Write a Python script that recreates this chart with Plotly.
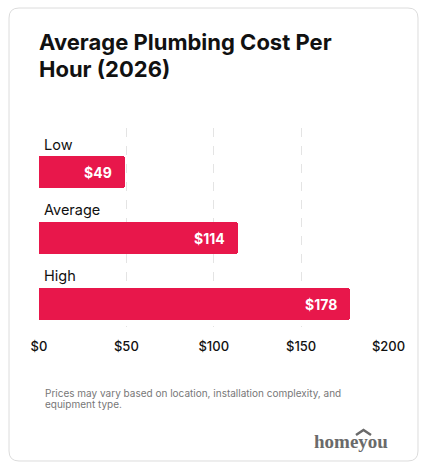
import plotly.graph_objects as go

categories = ["Low", "Average", "High"]
values = [49, 114, 178]
value_labels = ["$49", "$114", "$178"]
tick_vals = [0, 50, 100, 150, 200]
tick_text = ["$0", "$50", "$100", "$150", "$200"]
title_lines = ["Average Plumbing Cost Per", "Hour (2026)"]
note_lines = ["Prices may vary based on location, installation complexity, and", "equipment type."]

W, H = 426, 469
BAR_COLOR = "#E8174B"
FONT = "Inter"

def px(x):
    return x / W

def py(y):
    return 1 - y / H

fig = go.Figure()
fig.add_trace(go.Bar(
    x=values, y=list(range(len(categories))), orientation="h",
    marker=dict(color=BAR_COLOR, cornerradius=3, line=dict(width=0)),
    width=0.485, hoverinfo="skip",
))

annotations = []
for i, (c, v, t) in enumerate(zip(categories, values, value_labels)):
    annotations.append(dict(x=0, y=i, xref="x", yref="y", text=c, showarrow=False,
                            xanchor="left", yanchor="middle", xshift=3, yshift=28,
                            font=dict(family=FONT, size=14.5, color="#111")))
    annotations.append(dict(x=v, y=i, xref="x", yref="y", text="<b>%s</b>" % t, showarrow=False,
                            xanchor="right", yanchor="middle", xshift=-11,
                            font=dict(family=FONT, size=14, color="white")))

for k, (line, yc) in enumerate(zip(title_lines, [42, 69])):
    annotations.append(dict(x=px(37), y=py(yc), xref="paper", yref="paper",
                            text="<b>%s</b>" % line, showarrow=False,
                            xanchor="left", yanchor="middle", align="left",
                            font=dict(family=FONT, size=22, color="#111")))
for line, yc in zip(note_lines, [393, 404]):
    annotations.append(dict(x=px(43), y=py(yc), xref="paper", yref="paper",
                            text=line, showarrow=False, xanchor="left", yanchor="middle",
                            font=dict(family=FONT, size=10, color="#777")))
annotations.append(dict(x=px(390), y=py(441), xref="paper", yref="paper",
                        text="<b>homeyou</b>", showarrow=False, xanchor="right", yanchor="middle",
                        font=dict(family="Liberation Serif", size=19, color="#6a6a6a")))

# rounded card
x0, x1, y0, y1, r = 9, 418, 8, 461, 10
def P(x, y):
    return "%.5f,%.5f" % (px(x), py(y))
card = ("M " + P(x0 + r, y0) + " L " + P(x1 - r, y0) + " Q " + P(x1, y0) + " " + P(x1, y0 + r) +
        " L " + P(x1, y1 - r) + " Q " + P(x1, y1) + " " + P(x1 - r, y1) +
        " L " + P(x0 + r, y1) + " Q " + P(x0, y1) + " " + P(x0, y1 - r) +
        " L " + P(x0, y0 + r) + " Q " + P(x0, y0) + " " + P(x0 + r, y0) + " Z")
hat = "M " + P(356, 435) + " L " + P(363.5, 430) + " L " + P(371, 435)

fig.update_layout(
    width=W, height=H, margin=dict(l=0, r=0, t=0, b=0, autoexpand=False),
    paper_bgcolor="white", plot_bgcolor="rgba(0,0,0,0)",
    showlegend=False, bargap=0,
    annotations=annotations,
    shapes=[
        dict(type="path", path=card, xref="paper", yref="paper",
             line=dict(color="#dcdcdc", width=1), fillcolor="white", layer="below"),
        dict(type="path", path=hat, xref="paper", yref="paper",
             line=dict(color="#6a6a6a", width=2.5)),
    ],
    xaxis=dict(domain=[px(39), px(388.5)], range=[0, 200], tickvals=tick_vals, ticktext=tick_text,
               showgrid=True, gridcolor="#e4e4e4", griddash="dash", gridwidth=1,
               zeroline=False, showline=False, ticks="", ticklabelstandoff=10, automargin=False,
               tickfont=dict(family=FONT, size=13, color="#111", weight=500), fixedrange=True),
    yaxis=dict(domain=[py(327), py(128)], range=[2.348, -0.667], showticklabels=False, automargin=False,
               showgrid=False, zeroline=False, showline=False, fixedrange=True),
)

fig.write_html("out.html")
